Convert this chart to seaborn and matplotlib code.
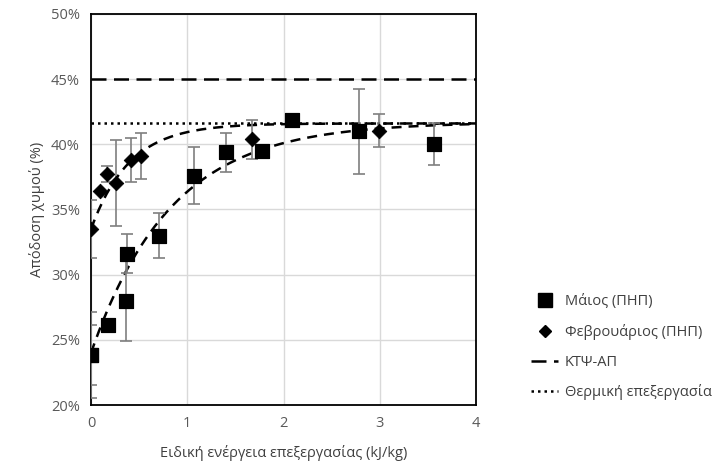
import numpy as np
import pandas as pd
import matplotlib
matplotlib.use("Agg")
import matplotlib.pyplot as plt
from matplotlib.lines import Line2D
import seaborn as sns

# data
may_x = [0.0, 0.0, 0.18, 0.36, 0.37, 0.71, 1.07, 1.40, 1.78, 2.09, 2.78, 3.56]
may_y = [23.8, 23.8, 26.1, 28.0, 31.6, 33.0, 37.6, 39.4, 39.5, 41.9, 41.0, 40.0]
may_err = [3.3, 2.3, 0.0, 3.1, 1.5, 1.7, 2.2, 1.5, 0.0, 0.0, 3.25, 1.6]

feb_x = [0.0, 0.09, 0.17, 0.26, 0.42, 0.52, 1.67, 2.99]
feb_y = [33.5, 36.4, 37.7, 37.0, 38.8, 39.1, 40.4, 41.05]
feb_err = [2.2, 0.0, 0.6, 3.3, 1.7, 1.75, 1.5, 1.25]

# saturating exponential trendlines: asymptote, intercept, rate
may_fit = (41.7, 24.0, 1.2)
feb_fit = (41.6, 33.5, 2.5)

ktps_level = 45.0
thermal_level = 41.6

labels = ["Μάιος (ΠΗΠ)", "Φεβρουάριος (ΠΗΠ)", "ΚΤΨ-ΑΠ", "Θερμική επεξεργασία"]
xticks = [0, 1, 2, 3, 4]
yticks = [20, 25, 30, 35, 40, 45, 50]

sns.set_style("white")
plt.rcParams["font.family"] = ["Open Sans", "DejaVu Sans"]

fig = plt.figure(figsize=(7.23, 4.65), dpi=100)
ax = fig.add_axes([0.1259, 0.129, 0.5325, 0.841])

# trend curves
xs = np.linspace(0, 4, 200)
def curve(p):
    a, b, k = p
    return a - (a - b) * np.exp(-k * xs)

fits = pd.DataFrame({"x": np.concatenate([xs, xs]),
                     "y": np.concatenate([curve(may_fit), curve(feb_fit)]),
                     "s": ["may"] * len(xs) + ["feb"] * len(xs)})
for s in ["may", "feb"]:
    sns.lineplot(data=fits[fits.s == s], x="x", y="y", ax=ax, color="black",
                 lw=1.8, linestyle=(0, (4, 2.8)), zorder=2)

ax.axhline(ktps_level, color="black", lw=1.8, linestyle=(0, (6, 3)), zorder=2)
ax.axhline(thermal_level, color="black", lw=1.8, linestyle=(0, (1, 1.6)), zorder=3)

# error bars
ax.errorbar(may_x, may_y, yerr=may_err, fmt="none", ecolor="#7f7f7f",
            elinewidth=1.2, capsize=4, capthick=1.2, zorder=4)
ax.errorbar(feb_x, feb_y, yerr=feb_err, fmt="none", ecolor="#7f7f7f",
            elinewidth=1.2, capsize=4, capthick=1.2, zorder=4)

may = pd.DataFrame({"x": may_x, "y": may_y})
feb = pd.DataFrame({"x": feb_x, "y": feb_y})
sns.scatterplot(data=may, x="x", y="y", ax=ax, marker="s", s=115, color="black",
                edgecolor="black", zorder=5)
sns.scatterplot(data=feb, x="x", y="y", ax=ax, marker="D", s=55, color="black",
                edgecolor="black", zorder=5)

ax.set_xlim(0, 4)
ax.set_ylim(20, 50)
ax.set_xticks(xticks)
ax.set_yticks(yticks)
ax.set_yticklabels([f"{v}%" for v in yticks])
ax.grid(True, color="#d9d9d9", lw=1)
ax.set_axisbelow(True)
for sp in ax.spines.values():
    sp.set_color("black")
    sp.set_linewidth(1.3)
ax.tick_params(axis="both", length=0, labelsize=10.5, colors="#595959", pad=8)
ax.set_xlabel("Ειδική ενέργεια επεξεργασίας (kJ/kg)", fontsize=10.5, color="#404040", labelpad=10)
ax.set_ylabel("Απόδοση χυμού (%)", fontsize=10.5, color="#404040", labelpad=4)

handles = [
    Line2D([], [], marker="s", color="black", linestyle="none", markersize=9.5),
    Line2D([], [], marker="D", color="black", linestyle="none", markersize=6),
    Line2D([], [], color="black", lw=1.8, linestyle=(0, (6, 3))),
    Line2D([], [], color="black", lw=1.8, linestyle=(0, (1, 1.6))),
]
fig.legend(handles, labels, loc="center left", bbox_to_anchor=(0.735, 0.253),
           frameon=False, fontsize=10.5, handlelength=1.8, handletextpad=0.5,
           labelspacing=1.0, labelcolor="#404040", borderaxespad=0, borderpad=0)

fig.savefig("out.png", dpi=100)
